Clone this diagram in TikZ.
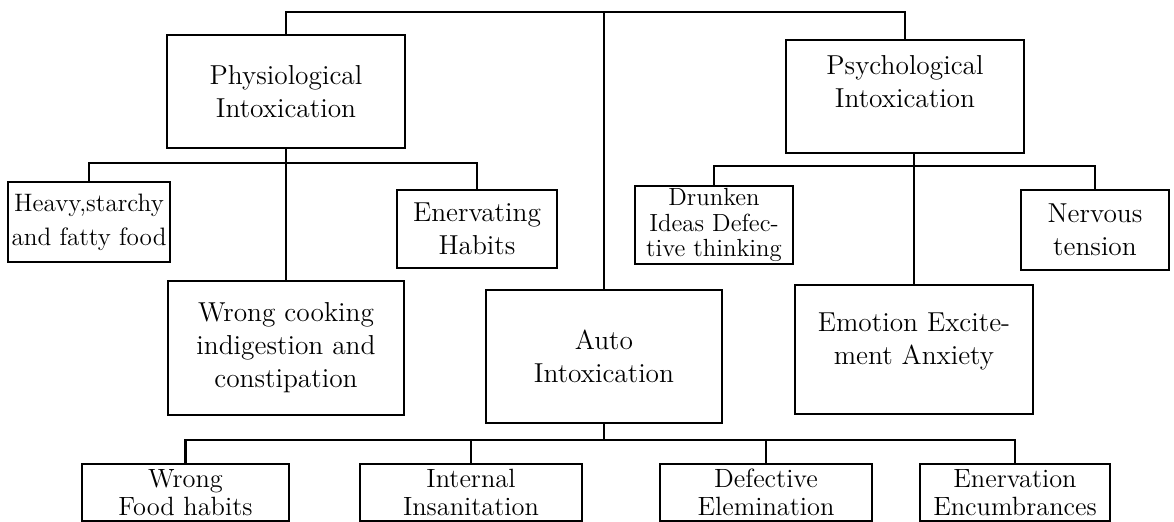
\documentclass[tikz,border=0pt]{standalone}
\usepackage{tikz}
\usetikzlibrary{positioning,calc}

\begin{document}
\begin{tikzpicture}[x=0.5pt,y=-0.5pt,line width=1.2pt,
    box/.style 2 args={draw,align=center,inner sep=0pt,minimum width=#1,minimum height=#2,
      font=\fontsize{13.7}{16.5}\selectfont}]
      \useasboundingbox (0,0) rectangle (1174,522);
      \node[box={119pt}{56.5pt}] (phys) at (286,91.5) {Physiological\\Intoxication};
      \node[box={119pt}{56.5pt}] (psych) at (905,96.5) {Psychological\\Intoxication\\[-2pt]~};
      \node[box={81pt}{40pt},font=\fontsize{12.6}{17}\selectfont] (heavy) at (89,222) {Heavy,starchy\\and fatty food};
      \node[box={80pt}{39pt}] (enhab) at (477,229) {Enervating\\Habits};
      \node[box={118pt}{67pt}] (wcook) at (286,348) {Wrong cooking\\indigestion and\\constipation};
      \node[box={79pt}{39pt},font=\fontsize{12.4}{12.6}\selectfont] (drunk) at (714,225) {Drunken\\Ideas Defec-\\tive thinking};
      \node[box={74pt}{40pt}] (nerv) at (1095,230) {Nervous\\tension};
      \node[box={119pt}{64.5pt}] (emo) at (914,349.5) {Emotion Excite-\\ment Anxiety\\[-6pt]~};
      \node[box={118pt}{66.5pt}] (auto) at (604,356.5) {Auto\\Intoxication};
      \node[box={103.5pt}{28.5pt},font=\fontsize{13.2}{14}\selectfont] (wfood) at (185.5,492.5) {Wrong\\Food habits};
      \node[box={111pt}{28.5pt},font=\fontsize{13.2}{14}\selectfont] (intern) at (471,492.5) {Internal\\Insanitation};
      \node[box={106pt}{28.5pt},font=\fontsize{13.2}{14}\selectfont] (defect) at (766,492.5) {Defective\\Elemination};
      \node[box={95pt}{28.5pt},font=\fontsize{13.2}{14}\selectfont] (encumb) at (1015,492.5) {Enervation\\Encumbrances};
      \coordinate (topbus) at (604,12);
      \coordinate (pbus) at (286,163);
      \coordinate (qbus) at (913,166);
      \coordinate (abus) at (604,440);
      \draw (phys.north) |- (topbus) -| (psych.north);
      \draw (topbus) -- (auto.north);
      \draw (heavy.north) |- (pbus) -| (enhab.north);
      \draw (phys.south) -- (wcook.north);
      \draw (drunk.north) |- (qbus) -| (nerv.north);
      \draw (emo.north |- psych.south) -- (emo.north);
      \draw (auto.south) -- (abus);
      \draw (wfood.north) |- (abus) -| (encumb.north);
      \foreach \n in {intern,defect}
      \draw (\n.north) -- (\n.north |- abus);
    \end{tikzpicture}
\end{document}
